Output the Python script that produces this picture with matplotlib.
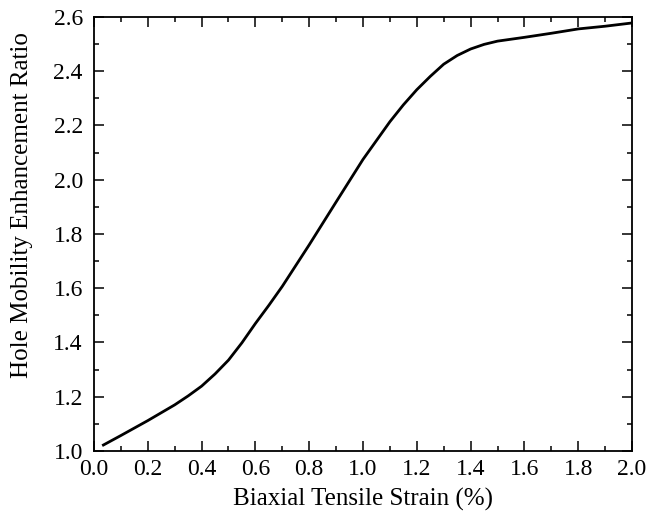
import numpy as np
import matplotlib
matplotlib.use("Agg")
import matplotlib.pyplot as plt
from matplotlib.ticker import MultipleLocator

# strain (%) vs hole mobility enhancement ratio
strain = [0.035, 0.1, 0.2, 0.3, 0.35, 0.4, 0.45, 0.5, 0.55, 0.6, 0.65, 0.7,
          0.8, 0.9, 1.0, 1.1, 1.15, 1.2, 1.25, 1.3, 1.35, 1.4, 1.45, 1.5,
          1.6, 1.7, 1.8, 1.9, 2.0]
ratio = [1.022, 1.057, 1.112, 1.170, 1.203, 1.239, 1.284, 1.335, 1.399, 1.470, 1.537, 1.607,
         1.760, 1.918, 2.075, 2.214, 2.276, 2.332, 2.381, 2.426, 2.458, 2.482, 2.499, 2.511,
         2.525, 2.540, 2.556, 2.566, 2.578]

x_ticks = [0.0, 0.2, 0.4, 0.6, 0.8, 1.0, 1.2, 1.4, 1.6, 1.8, 2.0]
y_ticks = [1.0, 1.2, 1.4, 1.6, 1.8, 2.0, 2.2, 2.4, 2.6]

plt.rcParams['font.family'] = ['Liberation Serif', 'DejaVu Serif']

fig = plt.figure(figsize=(6.54, 5.23), dpi=100)
ax = fig.add_axes([0.1437, 0.1377, 0.8227, 0.8298])

ax.plot(strain, ratio, '-', color='black', linewidth=2.0)

ax.set_xlim(0.0, 2.0)
ax.set_ylim(1.0, 2.6)
ax.set_xticks(x_ticks)
ax.set_yticks(y_ticks)
ax.set_xticklabels([f"{v:.1f}" for v in x_ticks])
ax.set_yticklabels([f"{v:.1f}" for v in y_ticks])
ax.xaxis.set_minor_locator(MultipleLocator(0.1))
ax.yaxis.set_minor_locator(MultipleLocator(0.1))

ax.tick_params(which='both', direction='in', top=True, right=True, width=1.1)
ax.tick_params(which='major', length=7, labelsize=17, pad=6)
ax.tick_params(which='minor', length=3.5)
ax.tick_params(axis='y', which='major', pad=8)
for s in ax.spines.values():
    s.set_linewidth(1.3)

ax.set_xlabel("Biaxial Tensile Strain (%)", fontsize=18)
ax.set_ylabel("Hole Mobility Enhancement Ratio", fontsize=18)
ax.xaxis.set_label_coords(0.5, -0.085)
ax.yaxis.set_label_coords(-0.113, 0.567)

fig.savefig("out.png", dpi=100)
